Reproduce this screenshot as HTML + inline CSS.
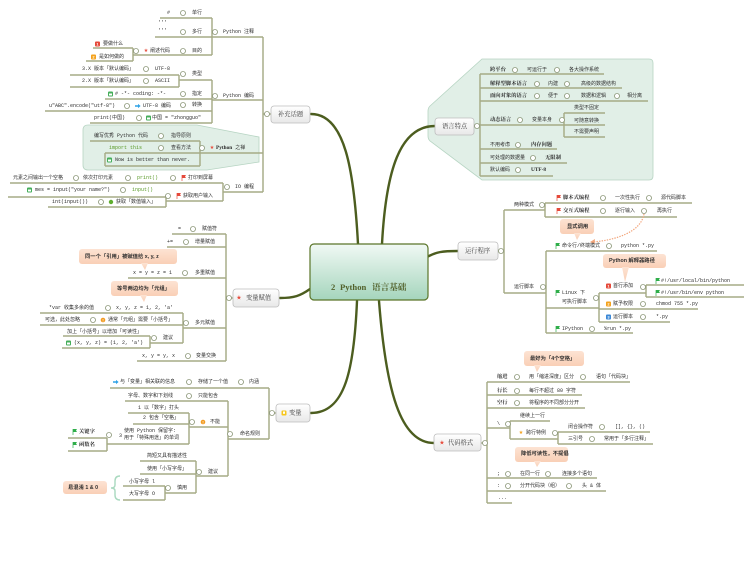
<!DOCTYPE html>
<html><head><meta charset="utf-8"><style>
html,body{margin:0;padding:0;background:#fff;}
svg{display:block}
text{dominant-baseline:central;font-family:"Liberation Mono","Noto Sans CJK SC",monospace;font-size:5px;fill:#2e2e2e}
.b{font-family:"Liberation Serif","Noto Serif CJK SC",serif;font-weight:bold;font-size:5.3px;fill:#2a2a2a}
.g{fill:#5a9a28}
.k{font-family:"Liberation Sans","Noto Sans CJK SC",sans-serif;font-weight:bold;font-size:5.3px;fill:#2e2e2e}
.n{font-family:"Liberation Serif","Noto Serif CJK SC",serif;font-size:6.3px;fill:#3c3c3c}
.ic{font-family:"DejaVu Sans",sans-serif;text-anchor:middle}
.w{fill:#fff;font-family:"Liberation Sans",sans-serif;font-size:4px;font-weight:bold;text-anchor:middle}
</style></head><body>
<svg width="744" height="576" viewBox="0 0 744 576" xmlns="http://www.w3.org/2000/svg">
<defs>
<linearGradient id="cg" x1="0" y1="0" x2="0" y2="1"><stop offset="0" stop-color="#f1f9f5"/><stop offset="1" stop-color="#a5d5bd"/></linearGradient>
<linearGradient id="ng" x1="0" y1="0" x2="0" y2="1"><stop offset="0" stop-color="#ffffff"/><stop offset="1" stop-color="#e8e8e8"/></linearGradient>
<linearGradient id="pg" x1="0" y1="0" x2="0" y2="1"><stop offset="0" stop-color="#fde3d3"/><stop offset="1" stop-color="#f9cfb6"/></linearGradient>
</defs>
<rect width="744" height="576" fill="#fff"/>

<!-- boundaries -->
<path d="M88,125 H197 L259,137 V162 L207,170 H88 Q83,170 83,165 V130 Q83,125 88,125 Z" fill="#e1efe7" stroke="#b6d4c2" stroke-width="0.8"/>
<path d="M482,59 H649 Q653,59 653,63 V176 Q653,180 649,180 H482 L430,141 Q428,139 428,136 V111 Q428,108 430,106 Z" fill="#e1efe7" stroke="#b6d4c2" stroke-width="0.8"/>

<!-- main curves -->
<g fill="none" stroke="#4c5d1f" stroke-width="2.4" stroke-linecap="round">
<path d="M358,244 C354,170 345,114 311,114"/>
<path d="M382,244 C386,170 400,126 435,126"/>
<path d="M427,257 C436,252 442,251 458,251"/>
<path d="M310,289 C300,296 294,298 280,298"/>
<path d="M357,301 C354,370 345,413 311,413"/>
<path d="M379,301 C386,390 400,443 434,443"/>
</g>

<!-- secondary lines -->
<path fill="none" stroke="#a6ab86" stroke-width="1.45" d="
M263,37V192 M263,114H271 M212,37H263 M160,18H212 M155,37H212 M133,55H212 M212,18V55 M93,48H133 M86,61H133 M133,48V61
M212,100H263 M212,80V123 M179,80H212 M179,75V87 M70,75H179 M70,87H179 M105,99H212 M45,111H212 M90,123H212
M200,153H263 M90,141H200 M105,153H200 M105,166H200 M200,141V166 M105,153V166
M223,192H263 M223,183V201 M10,183H223 M166,201H223 M166,197V207 M8,197H166 M48,207H166
M226,234V361 M226,298H233 M172,234H226 M167,247H226 M128,278H226 M183,328H226 M183,313V343 M40,313H183 M40,325H183 M150,343H183 M150,336V348 M63,336H150 M62,348H150 M137,361H226
M269,388V439 M269,413H276 M110,388H269 M228,439H269 M228,401V476 M125,401H228 M189,427H228 M189,413V444 M128,413H189 M133,424H189 M107,444H189 M107,438V451 M68,438H107 M68,451H107 M196,476H228 M196,461V493 M140,461H196 M140,474H196 M165,493H196 M165,486V500 M123,486H165 M123,500H165
M474,126H480 M480,74V176 M480,74H604 M480,88H622 M480,101H648 M480,125H605 M564,113V137 M564,113H605 M564,137H605 M480,149H557 M480,163H567 M480,176H553
M498,251H504 M504,210V293 M504,210H545 M545,203V217 M545,203H692 M545,217H677 M504,293H546 M546,251V333 M546,251H657 M546,308H599 M599,293V322 M599,293H646 M646,285V297 M646,285H744 M646,297H744 M599,309H698 M599,322H670 M546,333H633
M481,443H487 M487,382V503 M487,382H630 M487,395H582 M487,408H585 M487,428H510 M510,421V439 M510,421H550 M510,439H558 M558,432V444 M558,432H650 M558,444H653 M487,478H597 M487,491H606 M487,503H512
"/>

<!-- dotted orange arrow -->
<path d="M644,214 C641,232 616,240 593,242" fill="none" stroke="#f2a47a" stroke-width="1.2" stroke-dasharray="1.4,1.2"/>
<path d="M590,242 L595,239 L594.5,244 Z" fill="#f2a47a"/>

<!-- central node -->
<rect x="310" y="244" width="118" height="56" rx="4" fill="url(#cg)" stroke="#5a7529" stroke-width="1.2"/>
<text x="331" y="287" style="font-family:'Liberation Serif','Noto Serif CJK SC',serif;font-weight:bold;font-size:8.6px;fill:#52612b">2</text>
<text x="340" y="287" style="font-family:'Liberation Serif','Noto Serif CJK SC',serif;font-weight:bold;font-size:8.6px;fill:#52612b">Python</text>
<text x="372" y="287" style="font-family:'Liberation Serif','Noto Serif CJK SC',serif;font-weight:bold;font-size:8.6px;fill:#52612b">语言基础</text>

<!-- secondary nodes -->
<g fill="url(#ng)" stroke="#bdbdbd" stroke-width="0.8">
<rect x="271" y="106" width="39" height="17" rx="3"/>
<rect x="435" y="118" width="39" height="17" rx="3"/>
<rect x="458" y="242" width="40" height="18" rx="3"/>
<rect x="233" y="289" width="46" height="18" rx="3"/>
<rect x="276" y="404" width="34" height="18" rx="3"/>
<rect x="434" y="434" width="47" height="17" rx="3"/>
</g>
<text class="n" x="278" y="114.5">补充话题</text>
<text class="n" x="442" y="126.5">语言特点</text>
<text class="n" x="465" y="251">运行程序</text>
<text class="ic" x="239" y="298" style="font-size:6px;fill:#e74c3c">★</text>
<text class="n" x="246" y="298">变量赋值</text>
<rect x="281.5" y="410.5" width="5" height="5" rx="1" fill="#f6c61c"/><rect x="283" y="411.5" width="2" height="2.3" fill="#fff"/>
<text class="n" x="289" y="413">变量</text>
<text class="ic" x="442" y="443" style="font-size:6px;fill:#e74c3c">★</text>
<text class="n" x="448" y="443">代码格式</text>

<!-- callouts -->
<g fill="url(#pg)">
<rect x="79" y="249" width="98" height="15" rx="3"/><path d="M141,263 L148,263 L145,270 Z"/>
<rect x="111" y="281" width="67" height="15" rx="3"/><path d="M140,295 L147,295 L144,302 Z"/>
<rect x="63" y="481" width="44" height="13" rx="3"/>
<rect x="560" y="219" width="34" height="15" rx="3"/><path d="M574,233 L581,233 L577,240 Z"/>
<rect x="603" y="254" width="63" height="14" rx="3"/><path d="M622,267 L629,267 L625,282 Z"/>
<rect x="524" y="351" width="60" height="15" rx="3"/><path d="M534,365 L541,365 L537,372 Z"/>
<rect x="515" y="447" width="53" height="15" rx="3"/><path d="M534,461 L541,461 L537,467 Z"/>
</g>
<text class="k" x="85" y="257">同一个「引用」被赋值给 x, y, z</text>
<text class="k" x="117" y="289">等号两边均为「元组」</text>
<text class="k" x="68" y="488">易混淆 1 &amp; 0</text>
<text class="k" x="567" y="227">显式调用</text>
<text class="k" x="609" y="261">Python 解释器路径</text>
<text class="k" x="530" y="359">最好为「4个空格」</text>
<text class="k" x="521" y="454">降低可读性，不提倡</text>

<!-- brace -->
<path d="M120,476 Q115,476 115,481 V485 Q115,488 111,488 Q115,488 115,491 V495 Q115,500 120,500" fill="none" stroke="#a9d9bf" stroke-width="1.4"/>

<!-- ===== 补充话题 texts ===== -->
<text x="167" y="13">#</text><text x="192" y="13">单行</text>
<text x="158" y="23">'''</text><text x="158" y="31">'''</text><text x="192" y="32">多行</text>
<text x="223" y="32">Python 注释</text>
<text x="192" y="51">目的</text>
<text class="ic" x="146" y="51" style="font-size:5px;fill:#e74c3c">★</text><text x="150" y="51">阐述代码</text>
<rect x="95" y="41.5" width="5" height="5" rx="1" fill="#e5493a"/><text class="w" x="97.5" y="44">1</text><text x="103" y="44">要做什么</text>
<rect x="91" y="54.5" width="5" height="5" rx="1" fill="#f4a21c"/><text class="w" x="93.5" y="57">2</text><text x="99" y="57">是如何做的</text>
<text x="223" y="96">Python 编码</text>
<text x="192" y="74">类型</text>
<text x="82" y="69">3.X 版本「默认编码」</text><text x="155" y="69">UTF-8</text>
<text x="82" y="81">2.X 版本「默认编码」</text><text x="155" y="81">ASCII</text>
<text x="192" y="94">指定</text>
<rect x="108" y="91.5" width="5" height="5" rx="1" fill="#45ae5a"/><rect x="109" y="93.5" width="3" height="2" fill="#fff"/>
<text x="115" y="94"># -*- coding:  -*-</text>
<text x="192" y="105">转换</text>
<path d="M135,105.2 h3 v-1.3 l2.6,2.1 -2.6,2.1 v-1.3 h-3z" fill="#2fa2e6"/>
<text x="143" y="106">UTF-8 编码</text>
<text x="49" y="106">u"ABC".encode("utf-8")</text>
<rect x="146" y="115.5" width="5" height="5" rx="1" fill="#45ae5a"/><rect x="147" y="117.5" width="3" height="2" fill="#fff"/>
<text x="152" y="118">中国 = "zhongguo"</text>
<text x="94" y="118">print(中国)</text>

<text x="94" y="136">编写优秀 Python 代码</text><text x="171" y="136">指导原则</text>
<text class="g" x="109" y="148">import this</text><text x="171" y="148">查看方法</text>
<rect x="107" y="157.5" width="5" height="5" rx="1" fill="#45ae5a"/><rect x="108" y="159.5" width="3" height="2" fill="#fff"/>
<text x="115" y="160">Now is better than never.</text>
<text class="ic" x="212" y="148" style="font-size:5px;fill:#e74c3c">★</text>
<text x="216" y="148"><tspan class="b">Python</tspan> 之禅</text>

<text x="235" y="187">IO 编程</text>
<text x="13" y="178">元素之间输出一个空格</text><text x="83" y="178">依次打印元素</text><text class="g" x="137" y="178">print()</text>
<path d="M182,175v6" stroke="#e5493a" stroke-width="0.7"/><path d="M182,175h4l-1,1.5 1,1.5h-4z" fill="#e5493a"/>
<text x="188" y="178">打印到屏幕</text>
<rect x="27" y="187.5" width="5" height="5" rx="1" fill="#45ae5a"/><rect x="28" y="189.5" width="3" height="2" fill="#fff"/>
<text x="35" y="190">mes = input("your name?")</text><text class="g" x="132" y="190">input()</text>
<path d="M177,193v6" stroke="#e5493a" stroke-width="0.7"/><path d="M177,193h4l-1,1.5 1,1.5h-4z" fill="#e5493a"/>
<text x="183" y="196">获取用户输入</text>
<text x="52" y="202">int(input())</text>
<circle cx="111" cy="202" r="2.2" fill="#5fae2e"/>
<text x="116" y="202">获取「数值输入」</text>

<!-- ===== 变量赋值 texts ===== -->
<text x="178" y="229">=</text><text x="202" y="229">赋值符</text>
<text x="167" y="242">+=</text><text x="195" y="242">增量赋值</text>
<text x="133" y="273">x = y = z = 1</text><text x="195" y="273">多重赋值</text>
<text x="49" y="308">*var 收集多余的值</text><text x="116" y="308">x, y, z = 1, 2, 'a'</text>
<text x="45" y="320">可选，此处忽略</text>
<circle cx="103" cy="320" r="2.3" fill="#f29b21"/><text class="w" x="103" y="320">!</text>
<text x="108" y="320">通常「元组」需要「小括号」</text>
<text x="195" y="323">多元赋值</text>
<text x="67" y="332">加上「小括号」以增加「可读性」</text>
<text x="163" y="338">建议</text>
<rect x="66" y="340.5" width="5" height="5" rx="1" fill="#45ae5a"/><rect x="67" y="342.5" width="3" height="2" fill="#fff"/>
<text x="74" y="343">(x, y, z) = (1, 2, 'a')</text>
<text x="142" y="356">x, y = y, x</text><text x="196" y="356">变量交换</text>

<!-- ===== 变量 texts ===== -->
<path d="M113,381.2 h3 v-1.3 l2.6,2.1 -2.6,2.1 v-1.3 h-3z" fill="#2fa2e6"/>
<text x="120" y="382">与「变量」相关联的信息</text><text x="198" y="382">存储了一个值</text><text x="249" y="382">内涵</text>
<text x="128" y="396">字母、数字和下划线</text><text x="198" y="396">只能包含</text>
<text x="138" y="408">1 以「数字」打头</text>
<text x="143" y="418">2 包含「空格」</text>
<circle cx="203" cy="422" r="2.3" fill="#f29b21"/><text class="w" x="203" y="422">!</text>
<text x="210" y="422">不能</text>
<text x="119" y="436">3</text><text x="124" y="431">使用 Python 保留字:</text><text x="124" y="438">用于「特殊用途」的单词</text>
<path d="M73,429v6" stroke="#2fae4a" stroke-width="0.7"/><path d="M73,429h4l-1,1.5 1,1.5h-4z" fill="#2fae4a"/>
<text class="b" x="79" y="432">关键字</text>
<path d="M73,442v6" stroke="#2fae4a" stroke-width="0.7"/><path d="M73,442h4l-1,1.5 1,1.5h-4z" fill="#2fae4a"/>
<text class="b" x="79" y="445">函数名</text>
<text x="240" y="434">命名规则</text>
<text x="147" y="456">简短又具有描述性</text>
<text x="147" y="469">使用「小写字母」</text>
<text x="208" y="472">建议</text>
<text x="129" y="482">小写字母 l</text>
<text x="129" y="494">大写字母 O</text>
<text x="177" y="488">慎用</text>

<!-- ===== 语言特点 texts ===== -->
<text class="b" x="490" y="70">跨平台</text><text x="527" y="70">可运行于</text><text x="569" y="70">各大操作系统</text>
<text class="b" x="490" y="84">解释型脚本语言</text><text x="548" y="84">内建</text><text x="581" y="84">高级的数据结构</text>
<text class="b" x="490" y="96">面向对象的语言</text><text x="548" y="96">便于</text><text x="581" y="96">数据和逻辑</text><text x="627" y="96">相分离</text>
<text class="b" x="490" y="120">动态语言</text><text x="532" y="120">变量本身</text>
<text x="574" y="108">类型不固定</text><text x="574" y="121">可随意转换</text><text x="574" y="132">不需要声明</text>
<text x="490" y="145">不用考虑</text><text class="b" x="531" y="145">内存问题</text>
<text x="490" y="158">可处理的数据量</text><text class="b" x="545" y="158">无限制</text>
<text x="490" y="170">默认编码</text><text class="b" x="531" y="170">UTF-8</text>

<!-- ===== 运行程序 texts ===== -->
<text x="514" y="205">两种模式</text>
<path d="M557,195v6" stroke="#e5493a" stroke-width="0.7"/><path d="M557,195h4l-1,1.5 1,1.5h-4z" fill="#e5493a"/>
<text class="b" x="563" y="198">脚本式编程</text><text x="615" y="198">一次性执行</text><text x="661" y="198">源代码脚本</text>
<path d="M557,208v6" stroke="#e5493a" stroke-width="0.7"/><path d="M557,208h4l-1,1.5 1,1.5h-4z" fill="#e5493a"/>
<text class="b" x="563" y="211">交互式编程</text><text x="615" y="211">逐行输入</text><text x="657" y="211">再执行</text>
<path d="M556,243v6" stroke="#2fae4a" stroke-width="0.7"/><path d="M556,243h4l-1,1.5 1,1.5h-4z" fill="#2fae4a"/>
<text x="562" y="246">命令行/终端模式</text><text x="621" y="246">python *.py</text>
<text x="514" y="287">运行脚本</text>
<path d="M556,290v6" stroke="#2fae4a" stroke-width="0.7"/><path d="M556,290h4l-1,1.5 1,1.5h-4z" fill="#2fae4a"/>
<text x="562" y="293">Linux 下</text><text x="562" y="302">可执行脚本</text>
<rect x="606" y="283.5" width="5" height="5" rx="1" fill="#e5493a"/><text class="w" x="608.5" y="286">1</text><text x="613" y="286">首行添加</text>
<path d="M656,278v6" stroke="#2fae4a" stroke-width="0.7"/><path d="M656,278h4l-1,1.5 1,1.5h-4z" fill="#2fae4a"/>
<text x="661" y="281">#!/usr/local/bin/python</text>
<path d="M656,290v6" stroke="#2fae4a" stroke-width="0.7"/><path d="M656,290h4l-1,1.5 1,1.5h-4z" fill="#2fae4a"/>
<text x="661" y="293">#!/usr/bin/env python</text>
<rect x="606" y="301.5" width="5" height="5" rx="1" fill="#f4a21c"/><text class="w" x="608.5" y="304">2</text><text x="613" y="304">赋予权限</text><text x="656" y="304">chmod 755 *.py</text>
<rect x="606" y="314.5" width="5" height="5" rx="1" fill="#3a87d6"/><text class="w" x="608.5" y="317">3</text><text x="613" y="317">运行脚本</text><text x="656" y="317">*.py</text>
<path d="M556,326v6" stroke="#2fae4a" stroke-width="0.7"/><path d="M556,326h4l-1,1.5 1,1.5h-4z" fill="#2fae4a"/>
<text x="562" y="329">IPython</text><text x="604" y="329">%run *.py</text>

<!-- ===== 代码格式 texts ===== -->
<text class="b" x="497" y="377">缩进</text><text x="529" y="377">用「缩进深度」区分</text><text x="596" y="377">语句「代码块」</text>
<text class="b" x="497" y="391">行长</text><text x="529" y="391">每行不超过 80 字符</text>
<text class="b" x="497" y="403">空行</text><text x="529" y="403">将程序的不同部分分开</text>
<text x="497" y="424">\</text>
<text x="520" y="416">继续上一行</text>
<text class="ic" x="521" y="433" style="font-size:5px;fill:#f4a21c">★</text><text x="526" y="433">跨行特例</text>
<text x="568" y="427">闭合操作符</text><text x="615" y="427">[], {}, ()</text>
<text x="568" y="439">三引号</text><text x="604" y="439">常用于「多行注释」</text>
<text x="497" y="474">;</text><text x="520" y="474">在同一行</text><text x="562" y="474">连接多个语句</text>
<text x="497" y="486">:</text><text x="520" y="486">分开代码块（组）</text><text x="582" y="486">头 &amp; 体</text>
<text x="498" y="498">...</text>

<!-- circles -->
<g fill="#fff" stroke="#8f9a7c" stroke-width="0.85">
<circle cx="267" cy="114" r="2.5"/><circle cx="215" cy="32" r="2.5"/><circle cx="183" cy="13" r="2.5"/><circle cx="183" cy="32" r="2.5"/><circle cx="183" cy="51" r="2.5"/><circle cx="136" cy="51" r="2.5"/>
<circle cx="215" cy="96" r="2.5"/><circle cx="183" cy="74" r="2.5"/><circle cx="146" cy="69" r="2.5"/><circle cx="146" cy="81" r="2.5"/><circle cx="183" cy="94" r="2.5"/><circle cx="183" cy="105" r="2.5"/><circle cx="127" cy="106" r="2.5"/><circle cx="139" cy="118" r="2.5"/>
<circle cx="202" cy="148" r="2.5"/><circle cx="161" cy="136" r="2.5"/><circle cx="161" cy="148" r="2.5"/>
<circle cx="227" cy="187" r="2.5"/><circle cx="76" cy="178" r="2.5"/><circle cx="128" cy="178" r="2.5"/><circle cx="173" cy="178" r="2.5"/><circle cx="168" cy="196" r="2.5"/><circle cx="123" cy="190" r="2.5"/><circle cx="101" cy="202" r="2.5"/>
<circle cx="229" cy="298" r="2.5"/><circle cx="193" cy="229" r="2.5"/><circle cx="186" cy="242" r="2.5"/><circle cx="185" cy="273" r="2.5"/><circle cx="186" cy="323" r="2.5"/><circle cx="108" cy="308" r="2.5"/><circle cx="93" cy="320" r="2.5"/><circle cx="154" cy="338" r="2.5"/><circle cx="188" cy="356" r="2.5"/>
<circle cx="272" cy="413" r="2.5"/><circle cx="189" cy="382" r="2.5"/><circle cx="241" cy="382" r="2.5"/><circle cx="230" cy="434" r="2.5"/><circle cx="189" cy="396" r="2.5"/><circle cx="192" cy="422" r="2.5"/><circle cx="109" cy="435" r="2.5"/><circle cx="199" cy="472" r="2.5"/><circle cx="168" cy="488" r="2.5"/>
<circle cx="477" cy="126" r="2.5"/><circle cx="515" cy="70" r="2.5"/><circle cx="557" cy="70" r="2.5"/><circle cx="537" cy="84" r="2.5"/><circle cx="567" cy="84" r="2.5"/><circle cx="537" cy="96" r="2.5"/><circle cx="567" cy="96" r="2.5"/><circle cx="617" cy="96" r="2.5"/><circle cx="520" cy="120" r="2.5"/><circle cx="562" cy="120" r="2.5"/><circle cx="518" cy="145" r="2.5"/><circle cx="533" cy="158" r="2.5"/><circle cx="518" cy="170" r="2.5"/>
<circle cx="501" cy="251" r="2.5"/><circle cx="542" cy="205" r="2.5"/><circle cx="603" cy="198" r="2.5"/><circle cx="649" cy="198" r="2.5"/><circle cx="603" cy="211" r="2.5"/><circle cx="644" cy="211" r="2.5"/><circle cx="609" cy="246" r="2.5"/><circle cx="543" cy="287" r="2.5"/><circle cx="596" cy="298" r="2.5"/><circle cx="643" cy="287" r="2.5"/><circle cx="643" cy="304" r="2.5"/><circle cx="643" cy="317" r="2.5"/><circle cx="592" cy="329" r="2.5"/>
<circle cx="485" cy="443" r="2.5"/><circle cx="517" cy="377" r="2.5"/><circle cx="583" cy="377" r="2.5"/><circle cx="517" cy="391" r="2.5"/><circle cx="517" cy="403" r="2.5"/><circle cx="508" cy="424" r="2.5"/><circle cx="555" cy="433" r="2.5"/><circle cx="602" cy="427" r="2.5"/><circle cx="592" cy="439" r="2.5"/><circle cx="508" cy="474" r="2.5"/><circle cx="548" cy="474" r="2.5"/><circle cx="508" cy="486" r="2.5"/><circle cx="569" cy="486" r="2.5"/>
</g>
</svg>
</body></html>
